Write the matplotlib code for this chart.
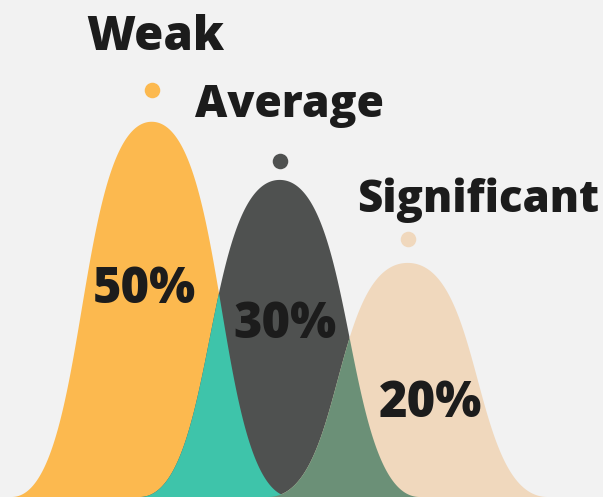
import numpy as np
import matplotlib
matplotlib.use('Agg')
from matplotlib import pyplot as plt
from matplotlib.transforms import ScaledTranslation

# data
categories = ["Weak", "Average", "Significant"]
shares = [50, 30, 20]
peak_height = [75.5, 63.8, 47.1]   # curve height, % of figure height

fill_colors = ["#fcb94f", "#4f5150", "#f0d8bd"]
overlap_colors = ["#3ec4aa", "#6b9077"]   # weak/average, average/significant
bg = "#f2f2f2"
ink = "#1c1c1c"

plt.rcParams['font.family'] = ['Open Sans', 'DejaVu Sans']

half_width = 1.094   # base half width of each bell, in category units
bend = 0.55          # bezier handle, controls how steep the flanks are


def bell(xs, centre, height):
    # half profile is a cubic bezier with flat tangents at top and base
    t = np.linspace(0, 1, 600)
    u = 3 * bend * t * (1 - t) ** 2 + 3 * (1 - bend) * t ** 2 * (1 - t) + t ** 3
    h = (1 - t) ** 2 * (1 + 2 * t)
    d = np.abs(xs - centre) / half_width
    return np.where(d < 1, height * np.interp(d, u, h), 0.0)


fig = plt.figure(figsize=(6.03, 4.97), dpi=100)
fig.patch.set_facecolor(bg)
ax = fig.add_axes([0, 0, 1, 1])
ax.set_facecolor(bg)
ax.set_xlim(-151.7 / 128, (603 - 151.7) / 128)
ax.set_ylim(0, 100)
ax.axis('off')

xs = np.linspace(-1.5, 4, 3000)
curves = [bell(xs, i, peak_height[i]) for i in range(len(categories))]

for i, c in enumerate(curves):
    ax.fill_between(xs, 0, c, color=fill_colors[i], lw=0, zorder=1)
for i in range(2):
    ax.fill_between(xs, 0, np.minimum(curves[i], curves[i + 1]),
                    color=overlap_colors[i], lw=0, zorder=2)

# dots above the peaks, labels above the dots (offsets in pixels)
dot_gap = [32, 19, 24]
name_dx = [-65, -85, -51]
name_dy = [72, 63, 51]
name_size = [34, 32, 31.5]
pct_dx = [-7, 5, 23]
pct_dy = [-181, -158, -154]

for i, name in enumerate(categories):
    shift = ScaledTranslation(0, dot_gap[i] / 100, fig.dpi_scale_trans)
    ax.scatter([i], [peak_height[i]], s=125, color=fill_colors[i], lw=0,
               transform=ax.transData + shift, zorder=4)
    ax.annotate(name, xy=(i, peak_height[i]), xytext=(name_dx[i], name_dy[i]),
                textcoords='offset pixels', ha='left', va='baseline',
                fontsize=name_size[i], fontweight='heavy', color=ink, zorder=5)
    ax.annotate(f"{shares[i]}%", xy=(i, peak_height[i]), xytext=(pct_dx[i], pct_dy[i]),
                textcoords='offset pixels', ha='center', va='baseline',
                fontsize=35, fontweight='heavy', color=ink, zorder=5)

fig.savefig('out.png', dpi=100, facecolor=bg)
